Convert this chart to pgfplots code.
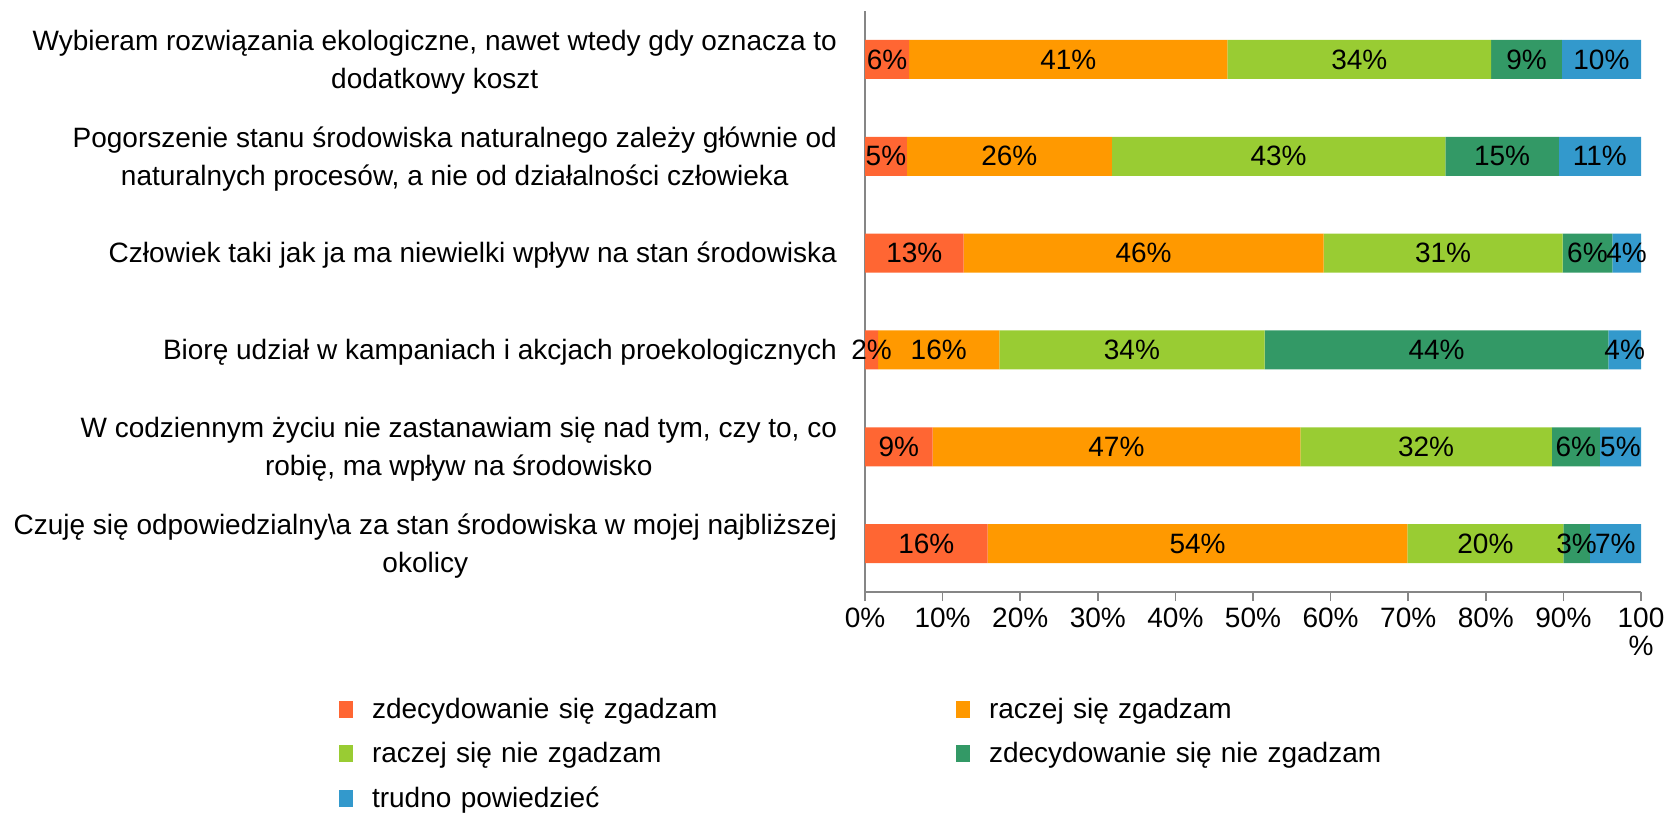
\documentclass[border=0pt]{standalone}
\usepackage{pgfplots}
\usepackage{pgfplotstable}
\pgfplotsset{compat=1.18}
\usepackage{fontspec}
\setmainfont{Liberation Sans}
\definecolor{c1}{HTML}{FF6633}
\definecolor{c2}{HTML}{FF9900}
\definecolor{c3}{HTML}{99CC33}
\definecolor{c4}{HTML}{339966}
\definecolor{c5}{HTML}{3399CC}
\definecolor{axgray}{HTML}{868686}
\pgfplotstableread{
y a b c d e
0 5.7 41.0 34.0 9.1 10.2
1 5.4 26.4 43.0 14.6 10.6
2 12.7 46.4 30.8 6.4 3.7
3 1.7 15.6 34.2 44.3 4.2
4 8.7 47.4 32.4 6.2 5.3
5 15.8 54.1 20.1 3.4 6.6
}\data
\pgfplotsset{lbl/.style={visualization depends on={\thisrow{#1}\as\rawv}}}
\begin{document}
\begin{tikzpicture}
\path[use as bounding box] (0,0) rectangle (834pt,407.5pt);
\begin{axis}[
  at={(432.5pt,111.5pt)}, anchor=south west,
  scale only axis, width=388pt, height=290.5pt,
  xbar stacked, bar width=19.5pt,
  xmin=0, xmax=100, ymin=-0.5, ymax=5.5, y dir=reverse,
  axis x line*=bottom, axis y line*=left,
  axis line style={draw=axgray, line width=0.75pt},
  tick align=outside,
  major tick length=4.5pt,
  tick style={draw=axgray, line width=0.75pt},
  /pgf/number format/assume math mode=true,
  xtick={0,10,...,100},
  xticklabels={0\%,10\%,20\%,30\%,40\%,50\%,60\%,70\%,80\%,90\%,{100\\\%}},
  xticklabel style={align=center, font=\fontsize{14}{14}\selectfont},
  ytick={0,1,2,3,4,5},
  yticklabels={
    {Wybieram rozwiązania ekologiczne, nawet wtedy gdy oznacza to\\dodatkowy koszt},
    {Pogorszenie stanu środowiska naturalnego zależy głównie od\\naturalnych procesów, a nie od działalności człowieka},
    {Człowiek taki jak ja ma niewielki wpływ na stan środowiska},
    {Biorę udział w kampaniach i akcjach proekologicznych},
    {W codziennym życiu nie zastanawiam się nad tym, czy to, co\\robię, ma wpływ na środowisko},
    {Czuję się odpowiedzialny\textbackslash a za stan środowiska w mojej najbliższej\\okolicy}},
  yticklabel style={align=center, font=\fontsize{14}{19}\selectfont, xshift=-6pt, yshift=-1.2pt},
  ytick style={draw=none},
  extra y ticks={-0.5,0.5,1.5,2.5,3.5,4.5,5.5},
  extra y tick labels={},
  extra y tick style={tick style={draw=axgray, line width=0.75pt}},
  nodes near coords={\pgfmathprintnumber[fixed,precision=0,assume math mode=true]{\rawv}\%},
  every node near coord/.append style={anchor=center, black, inner sep=1pt,
     font=\fontsize{14}{15}\selectfont},
  legend columns=2,
  legend cell align=left,
  legend image code/.code={\fill[#1] (0pt,-4.25pt) rectangle (7pt,4.25pt);},
  legend style={at={(-0.686,-0.168)}, anchor=north west, draw=none, fill=none,
     font=\fontsize{14}{15}\selectfont, row sep=6.5pt,
     /tikz/every odd column/.append style={column sep=7.5pt},
     nodes={text width=290pt}},
]
\addplot[fill=c1, draw=none, lbl=a] table[x=a, y=y] {\data};
\addplot[fill=c2, draw=none, lbl=b] table[x=b, y=y] {\data};
\addplot[fill=c3, draw=none, lbl=c] table[x=c, y=y] {\data};
\addplot[fill=c4, draw=none, lbl=d] table[x=d, y=y] {\data};
\addplot[fill=c5, draw=none, lbl=e] table[x=e, y=y] {\data};
\legend{zdecydowanie się zgadzam, raczej się zgadzam, raczej się nie zgadzam, zdecydowanie się nie zgadzam, trudno powiedzieć}
\end{axis}
\end{tikzpicture}
\end{document}
